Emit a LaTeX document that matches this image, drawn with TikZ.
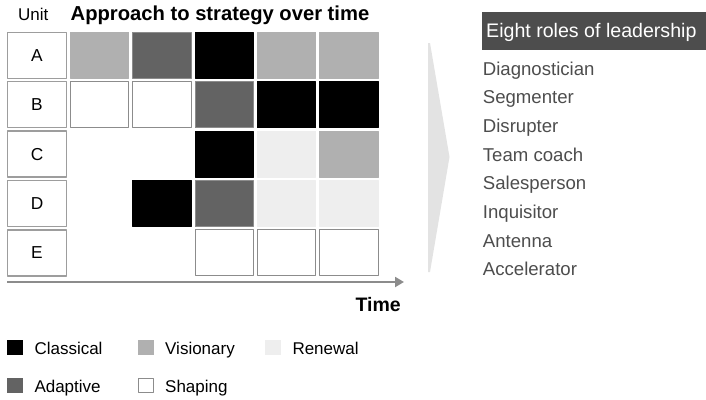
\documentclass[tikz,border=0pt]{standalone}
\usepackage{fontspec}
\setmainfont{Liberation Sans}
\usetikzlibrary{arrows.meta}

\definecolor{visgray}{HTML}{B0B0B0}
\definecolor{adagray}{HTML}{636363}
\definecolor{rengray}{HTML}{EEEEEE}
\definecolor{edgegray}{HTML}{8C8C8C}
\definecolor{chevgray}{HTML}{E3E3E3}
\definecolor{hdrgray}{HTML}{4D4D4D}

\begin{document}
\begin{tikzpicture}[x=1pt,y=-1pt,>=Stealth,line cap=round,line join=round,
  cell/.style={minimum width=58.3pt,minimum height=46pt,inner sep=0pt,outer sep=0pt},
  cla/.style={cell,fill=black,draw=black,line width=.8pt},
  vis/.style={cell,fill=visgray,draw=visgray,line width=.8pt},
  ren/.style={cell,fill=rengray,draw=rengray,line width=.8pt},
  ada/.style={cell,fill=adagray,draw=edgegray,line width=1pt},
  sha/.style={cell,fill=white,draw=edgegray,line width=1pt},
  unitbox/.style={cell,minimum width=59.4pt,draw=edgegray!85,line width=1.3pt,
    font=\fontsize{17.3}{20}\selectfont},
  keybox/.style={minimum width=16pt,minimum height=15pt,inner sep=0pt},
  keytext/.style={anchor=base west,inner sep=0pt,font=\fontsize{17}{20}\selectfont},
  roletext/.style={anchor=base west,inner sep=0pt,text=hdrgray,
    font=\fontsize{18.6}{22}\selectfont}]
  \useasboundingbox (0,0) rectangle (706,399);

  % heading
  \node[anchor=base west,inner sep=0pt,font=\fontsize{17}{20}\selectfont]
    (unitlab) at (18,20.7) {Unit};
  \node[anchor=base west,inner sep=0pt,font=\fontsize{20.2}{24}\selectfont\bfseries]
    (title) at (70.5,20.7) {Approach to strategy over time};

  % unit column
  \foreach \lab [count=\r] in {A,B,C,D,E}
    \node[unitbox] (u\lab) at (37,{55.3+49.4*(\r-1)}) {\lab};

  % approach per unit and period
  \foreach \r/\c/\s in {1/1/vis,1/2/ada,1/3/cla,1/4/vis,1/5/vis,
                        2/1/sha,2/2/sha,2/3/ada,2/4/cla,2/5/cla,
                        3/3/cla,3/4/ren,3/5/vis,
                        4/2/cla,4/3/ada,4/4/ren,4/5/ren,
                        5/3/sha,5/4/sha,5/5/sha}
    \node[\s] (c\r\c) at ({99.7+62.3*(\c-1)},{55.3+49.4*(\r-1)}) {};

  % time axis
  \coordinate (t0) at (7.3,282);
  \coordinate (t1) at (404,282);
  \draw[edgegray,line width=2pt,line cap=butt,
    -{Triangle[length=9pt,width=10pt]}] (t0) -- (t1);
  \node[anchor=base east,inner sep=0pt,font=\fontsize{19.5}{23}\selectfont\bfseries]
    (time) at (401,311.7) {Time};

  % legend
  \node[keybox,fill=black] (kcla) at (15.3,347.5) {};
  \node[keytext] (tcla) at (34.3,354.4) {Classical};
  \node[keybox,fill=visgray] (kvis) at (146.2,347.5) {};
  \node[keytext] (tvis) at (165,354.4) {Visionary};
  \node[keybox,fill=rengray] (kren) at (272.8,347.5) {};
  \node[keytext] (tren) at (292.3,354.4) {Renewal};
  \node[keybox,fill=adagray] (kada) at (15.3,385) {};
  \node[keytext] (tada) at (34.3,392.3) {Adaptive};
  \node[keybox,fill=white,draw=edgegray,line width=1pt,
    minimum width=15pt,minimum height=14pt] (ksha) at (146.2,385) {};
  \node[keytext] (tsha) at (165,392.3) {Shaping};

  % chevron
  \fill[chevgray] (428,43) -- (430,43) -- (449.5,157) -- (430,272) -- (428,272) -- cycle;

  % leadership roles
  \fill[hdrgray] (482,11.5) rectangle (706,49.5);
  \node[anchor=base west,inner sep=0pt,text=white,font=\fontsize{19.6}{23}\selectfont]
    (hdr) at (486,37.3) {Eight roles of leadership};
  \foreach \role [count=\i] in {Diagnostician,Segmenter,Disrupter,Team coach,
                                Salesperson,Inquisitor,Antenna,Accelerator}
    \node[roletext] (role\i) at (482.7,{75+28.7*(\i-1)}) {\role};
\end{tikzpicture}
\end{document}
